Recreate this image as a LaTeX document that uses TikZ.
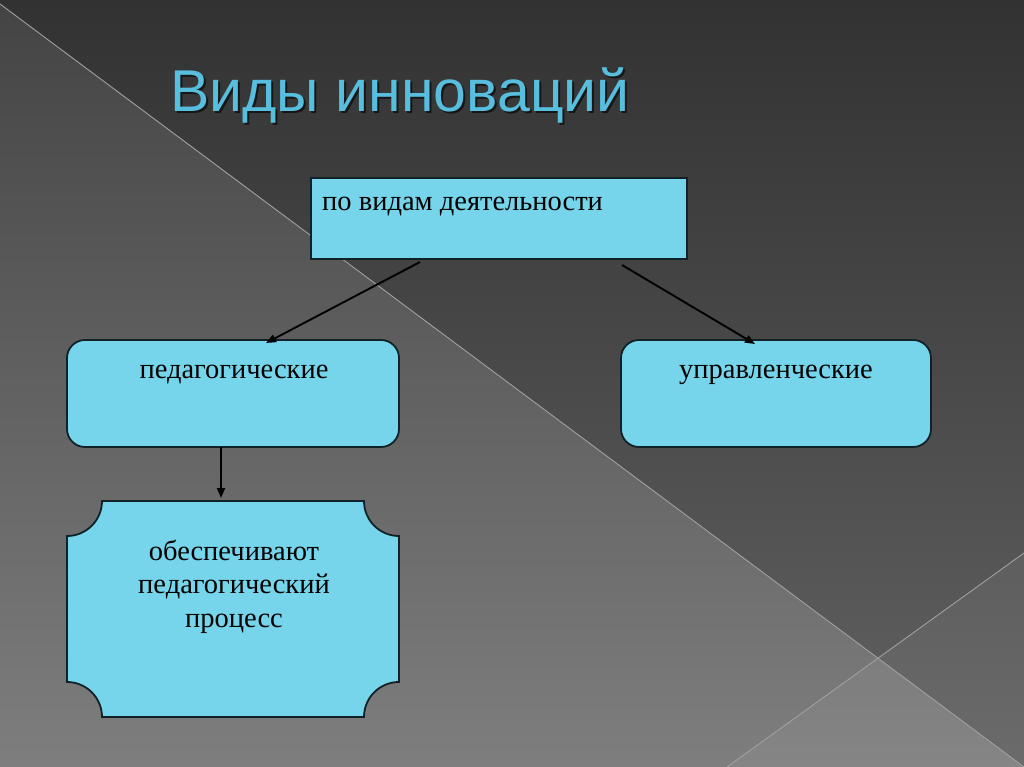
\documentclass[tikz,border=0pt]{standalone}
\usepackage{fontspec}
\setmainfont{Liberation Serif}
\newfontfamily\titlefont{Liberation Sans}
\usetikzlibrary{arrows.meta,calc}
\definecolor{bgtop}{RGB}{50,50,50}
\definecolor{bgmid}{RGB}{60,60,60}
\definecolor{bgbot}{RGB}{98,98,98}
\definecolor{tritop}{RGB}{68,68,68}
\definecolor{trimid}{RGB}{75,76,76}
\definecolor{tribot}{RGB}{126,126,126}
\definecolor{seam}{RGB}{160,160,160}
\definecolor{boxfill}{RGB}{118,213,234}
\definecolor{boxline}{RGB}{16,34,40}
\definecolor{titleblue}{RGB}{88,190,222}
\tikzset{
  box/.style={draw=boxline, fill=boxfill, line width=1.8pt, inner sep=0pt, outer sep=0pt, anchor=north west},
  rbox/.style={box, rounded corners=18pt},
  lbl/.style={inner sep=0pt, font=\fontsize{28.5}{33.5}\selectfont, text=black},
  conn/.style={draw=black, line width=1.9pt, -{Triangle[length=10pt,width=8pt]}},
  seamline/.style={draw=seam, line width=0.9pt},
  titlestyle/.style={inner sep=0pt, anchor=base west, font=\titlefont\fontsize{59}{62}\selectfont}
}
\begin{document}
\begin{tikzpicture}[x=1pt,y=-1pt]
\useasboundingbox (0,0) rectangle (1024,767);
% background
\shade[top color=bgtop, middle color=bgmid, bottom color=bgbot] (0,0) rectangle (1024,767);
\shade[top color=tritop, middle color=trimid, bottom color=tribot] (0,4) -- (1024,767) -- (0,767) -- cycle;
\fill[white, fill opacity=0.06] (727,767) -- (1024,553) -- (1024,767) -- cycle;
\draw[seamline] (0,4) -- (1024,767);
\draw[seamline] (727,767) -- (1024,553);
% title
\node[titlestyle, text=black, text opacity=0.6] (titleshadow) at (172,114) {Виды инноваций};
\node[titlestyle, text=titleblue] (title) at (170,112) {Виды инноваций};
% boxes
\node[box, minimum width=376pt, minimum height=81pt] (top) at (311,178) {};
\node[lbl, anchor=base west] (toptxt) at (322,211) {по видам деятельности};
\node[rbox, minimum width=332pt, minimum height=107pt] (ped) at (67,340) {};
\node[lbl, anchor=base] (pedtxt) at (234,378) {педагогические};
\node[rbox, minimum width=310pt, minimum height=107pt] (upr) at (621,340) {};
\node[lbl, anchor=base] (uprtxt) at (776,378) {управленческие};
% bottom box with concave corners
\draw[draw=boxline, fill=boxfill, line width=1.8pt]
  (102,501) -- (364,501) .. controls (364,520.33) and (379.67,536) .. (399,536)
  -- (399,682) .. controls (379.67,682) and (364,697.67) .. (364,717)
  -- (102,717) .. controls (102,697.67) and (86.33,682) .. (67,682)
  -- (67,536) .. controls (86.33,536) and (102,520.33) .. (102,501) -- cycle;
\node[lbl, anchor=base, align=center] (bottxt) at (234,627) {обеспечивают\\педагогический\\процесс};
% connector ends
\coordinate (a1s) at (420,262);
\coordinate (a1e) at (266,343);
\coordinate (a2s) at (622,265);
\coordinate (a2e) at (755,344);
\coordinate (a3s) at (221,447);
\coordinate (a3e) at (221,498);
\draw[conn] (a1s) -- (a1e);
\draw[conn] (a2s) -- (a2e);
\draw[conn] (a3s) -- (a3e);
\end{tikzpicture}
\end{document}
